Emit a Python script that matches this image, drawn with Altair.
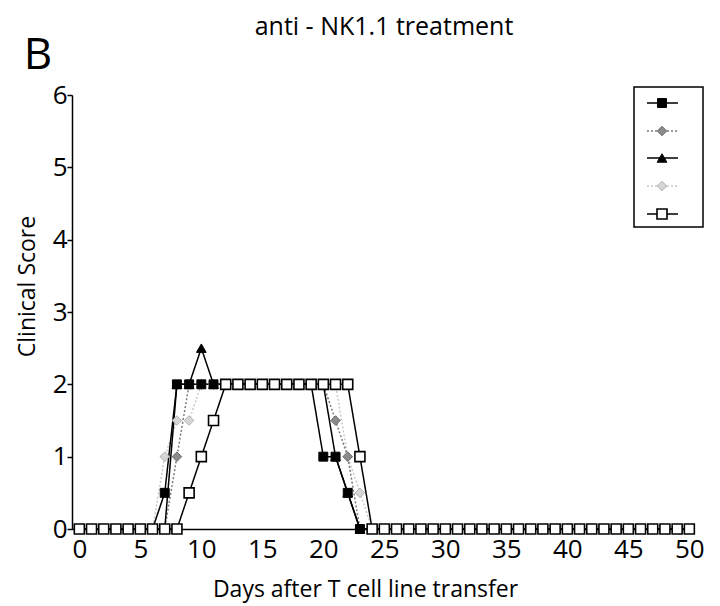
import altair as alt
import pandas as pd

days = list(range(0, 51))
black_square = [0, 0, 0, 0, 0, 0, 0, 0.5, 2, 2, 2, 2, 2, 2, 2, 2, 2, 2, 2, 2, 1, 1, 0.5,
                0, 0, 0, 0, 0, 0, 0, 0, 0, 0, 0, 0, 0, 0, 0, 0, 0, 0, 0, 0, 0, 0, 0, 0, 0, 0, 0, 0]
gray_diamond = [0, 0, 0, 0, 0, 0, 0, 0, 1, 2, 2, 2, 2, 2, 2, 2, 2, 2, 2, 2, 2, 1.5, 1,
                0, 0, 0, 0, 0, 0, 0, 0, 0, 0, 0, 0, 0, 0, 0, 0, 0, 0, 0, 0, 0, 0, 0, 0, 0, 0, 0, 0]
black_triangle = [0, 0, 0, 0, 0, 0, 0, 0, 2, 2, 2.5, 2, 2, 2, 2, 2, 2, 2, 2, 2, 2, 1, 0.5,
                  0, 0, 0, 0, 0, 0, 0, 0, 0, 0, 0, 0, 0, 0, 0, 0, 0, 0, 0, 0, 0, 0, 0, 0, 0, 0, 0, 0]
light_diamond = [0, 0, 0, 0, 0, 0, 0, 1, 1.5, 1.5, 2, 2, 2, 2, 2, 2, 2, 2, 2, 2, 2, 2, 1, 0.5,
                 0, 0, 0, 0, 0, 0, 0, 0, 0, 0, 0, 0, 0, 0, 0, 0, 0, 0, 0, 0, 0, 0, 0, 0, 0, 0, 0]
open_square = [0, 0, 0, 0, 0, 0, 0, 0, 0, 0.5, 1, 1.5, 2, 2, 2, 2, 2, 2, 2, 2, 2, 2, 2, 1,
               0, 0, 0, 0, 0, 0, 0, 0, 0, 0, 0, 0, 0, 0, 0, 0, 0, 0, 0, 0, 0, 0, 0, 0, 0, 0, 0]

x_ticks = [0, 5, 10, 15, 20, 25, 30, 35, 40, 45, 50]
y_ticks = [0, 1, 2, 3, 4, 5, 6]

FONT = "Open Sans"

# series styles (drawing order: open squares last, on top)
styles = [
    ("light", light_diamond, dict(line_color="#c8c8c8", dash=[2, 2], shape="diamond",
                                  fill="#d6d6d6", stroke="#b0b0b0", size=90, sw=1)),
    ("gray", gray_diamond, dict(line_color="#7a7a7a", dash=[2, 2], shape="diamond",
                                fill="#8c8c8c", stroke="#6a6a6a", size=90, sw=1)),
    ("tri", black_triangle, dict(line_color="black", dash=[1, 0], shape="triangle-up",
                                 fill="black", stroke="black", size=95, sw=1)),
    ("bsq", black_square, dict(line_color="black", dash=[1, 0], shape="square",
                               fill="black", stroke="black", size=80, sw=1)),
    ("osq", open_square, dict(line_color="black", dash=[1, 0], shape="square",
                              fill="white", stroke="black", size=100, sw=1.6)),
]

xenc = alt.X("day:Q",
             scale=alt.Scale(domain=[-0.6, 50.3], nice=False, zero=False),
             axis=alt.Axis(values=x_ticks, title="Days after T cell line transfer",
                           grid=False, ticks=False, labelPadding=7, titlePadding=16,
                           titleX=293,
                           domainColor="black", domainWidth=1.5,
                           labelFontSize=26, titleFontSize=23, labelFont=FONT,
                           titleFont=FONT, labelColor="black", titleColor="black",
                           titleFontWeight="normal", labelFlush=False))
yenc = alt.Y("score:Q",
             scale=alt.Scale(domain=[0, 6], nice=False),
             axis=alt.Axis(values=y_ticks, title="Clinical Score", grid=False,
                           tickSize=5, tickColor="black", tickWidth=1.5,
                           labelPadding=0, titlePadding=13, titleY=191,
                           domainColor="black", domainWidth=1.5,
                           labelFontSize=26, titleFontSize=23, labelFont=FONT,
                           titleFont=FONT, labelColor="black", titleColor="black",
                           titleFontWeight="normal"))

layers = []
for name, vals, st in styles:
    df = pd.DataFrame({"day": days, "score": vals})
    layers.append(
        alt.Chart(df).mark_line(color=st["line_color"], strokeWidth=1.5,
                                strokeDash=st["dash"]).encode(x=xenc, y=yenc)
    )
for name, vals, st in styles:
    df = pd.DataFrame({"day": days, "score": vals})
    layers.append(
        alt.Chart(df).mark_point(shape=st["shape"], filled=True, fill=st["fill"],
                                 stroke=st["stroke"], strokeWidth=st["sw"],
                                 size=st["size"], opacity=1).encode(x=xenc, y=yenc)
    )

# legend box (no labels, as in the reference)
one = alt.Data(values=[{"k": 0}])
legend_y = [8, 36, 63, 91, 119]
legend_order = ["bsq", "gray", "tri", "light", "osq"]
style_map = {n: st for n, _, st in styles}
layers.append(
    alt.Chart(one).mark_rect(filled=False, stroke="black", strokeWidth=1.5).encode(
        x=alt.value(562), x2=alt.value(631), y=alt.value(-8), y2=alt.value(132))
)
for ly, n in zip(legend_y, legend_order):
    st = style_map[n]
    layers.append(
        alt.Chart(one).mark_rule(color=st["line_color"], strokeWidth=1.5,
                                 strokeDash=st["dash"]).encode(
            x=alt.value(575), x2=alt.value(606), y=alt.value(ly))
    )
    layers.append(
        alt.Chart(one).mark_point(shape=st["shape"], filled=True, fill=st["fill"],
                                  stroke=st["stroke"], strokeWidth=st["sw"],
                                  size=st["size"], opacity=1).encode(
            x=alt.value(590), y=alt.value(ly))
    )

# title texts
layers.append(
    alt.Chart(one).mark_text(text="anti - NK1.1 treatment", font=FONT, fontSize=25,
                             color="black", align="center", baseline="alphabetic").encode(
        x=alt.value(312), y=alt.value(-60))
)
layers.append(
    alt.Chart(one).mark_text(text="B", font=FONT, fontSize=44, color="black",
                             align="center", baseline="alphabetic").encode(
        x=alt.value(-34), y=alt.value(-26))
)

chart = alt.layer(*layers).properties(
    width=621, height=434,
    background="white",
    autosize=alt.AutoSizeParams(type="none"),
    padding={"left": 64, "top": 87, "right": 16, "bottom": 76},
).configure_view(stroke=None, strokeWidth=0)

chart.save("out.html", embed_options={"renderer": "svg", "actions": False})
